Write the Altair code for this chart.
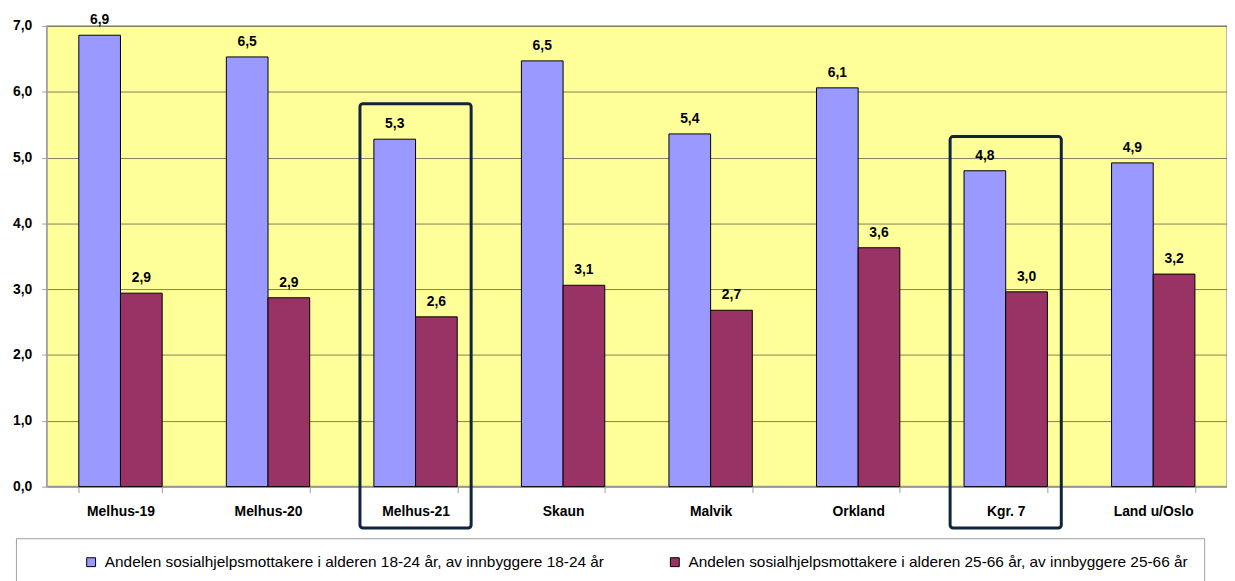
import altair as alt
import pandas as pd

categories = ["Melhus-19", "Melhus-20", "Melhus-21", "Skaun", "Malvik",
              "Orkland", "Kgr. 7", "Land u/Oslo"]
series = [
    "Andelen sosialhjelpsmottakere i alderen 18-24 år, av innbyggere 18-24 år",
    "Andelen sosialhjelpsmottakere i alderen 25-66 år, av innbyggere 25-66 år",
]
young = [6.86, 6.53, 5.28, 6.47, 5.36, 6.06, 4.80, 4.92]
adult = [2.94, 2.87, 2.58, 3.06, 2.68, 3.63, 2.96, 3.23]
highlight_cats = ["Melhus-21", "Kgr. 7"]
highlight_top = [5.82, 5.32]
highlight_bottom = -0.63
colors = ["#9999FF", "#993366"]

rows = []
for c, a, b in zip(categories, young, adult):
    rows.append({"kategori": c, "serie": series[0], "verdi": a})
    rows.append({"kategori": c, "serie": series[1], "verdi": b})
df = pd.DataFrame(rows)
hl = pd.DataFrame({"kategori": highlight_cats, "topp": highlight_top})

FONT = "Liberation Sans"

x = alt.X(
    "kategori:N", sort=categories,
    scale=alt.Scale(paddingInner=0.435, paddingOuter=0.2175),
    axis=alt.Axis(title=None, labelAngle=0, labelFontWeight="bold", labelFontSize=14,
                  labelColor="black", tickBand="extent", tickSize=6, labelPadding=12,
                  domainColor="#A0A0A0", tickColor="#A0A0A0", grid=False),
)
y = alt.Y(
    "verdi:Q",
    scale=alt.Scale(domain=[0, 7], nice=False),
    axis=alt.Axis(title=None, values=[0, 1, 2, 3, 4, 5, 6, 7],
                  labelExpr="replace(format(datum.value, '.1f'), '.', ',')",
                  labelFontWeight="bold", labelFontSize=14, labelColor="black",
                  tickSize=5, labelPadding=10, domainColor="#A0A0A0", tickColor="#A0A0A0",
                  grid=True, gridColor="#7f7f60", gridWidth=1),
)
xoff = alt.XOffset("serie:N", sort=series, scale=alt.Scale(paddingInner=0, paddingOuter=0))

color = alt.Color(
    "serie:N", sort=series,
    scale=alt.Scale(domain=series, range=colors),
    legend=alt.Legend(
        orient="none", legendX=-31, legendY=516, direction="horizontal",
        title=None, padding=16, strokeColor="#A0A0A0", fillColor="white",
        symbolType="square", symbolSize=80, symbolStrokeColor="black",
        symbolStrokeWidth=1, symbolOffset=52, labelOffset=6,
        labelFontSize=15.5, labelColor="black",
        labelLimit=0, columnPadding=11, labelFont=FONT,
    ),
)

bars = alt.Chart(df).mark_bar(stroke="black", strokeWidth=1).encode(
    x=x, y=y, xOffset=xoff, color=color
)

text = alt.Chart(df).transform_calculate(
    label="replace(format(datum.verdi, '.1f'), '.', ',')"
).mark_text(dy=-15, fontWeight="bold", fontSize=14, color="black", font=FONT).encode(
    x=x, y=y, xOffset=xoff, text="label:N"
)

box = alt.Chart(hl).mark_bar(
    size=112, fillOpacity=0, stroke="#10243E", strokeWidth=3, cornerRadius=3, clip=False
).encode(
    x=alt.X("kategori:N", sort=categories),
    y=alt.Y("topp:Q"),
    y2=alt.datum(highlight_bottom),
)

chart = alt.layer(bars, text, box).properties(
    width=1189, height=464,
    padding={"left": 4, "top": 3, "right": 0, "bottom": 0},
).configure(font=FONT).configure_view(fill="#FFFF99", stroke="#A0A0A0", strokeWidth=1.5)

chart.save("out.html", embed_options={"renderer": "svg", "actions": False})
